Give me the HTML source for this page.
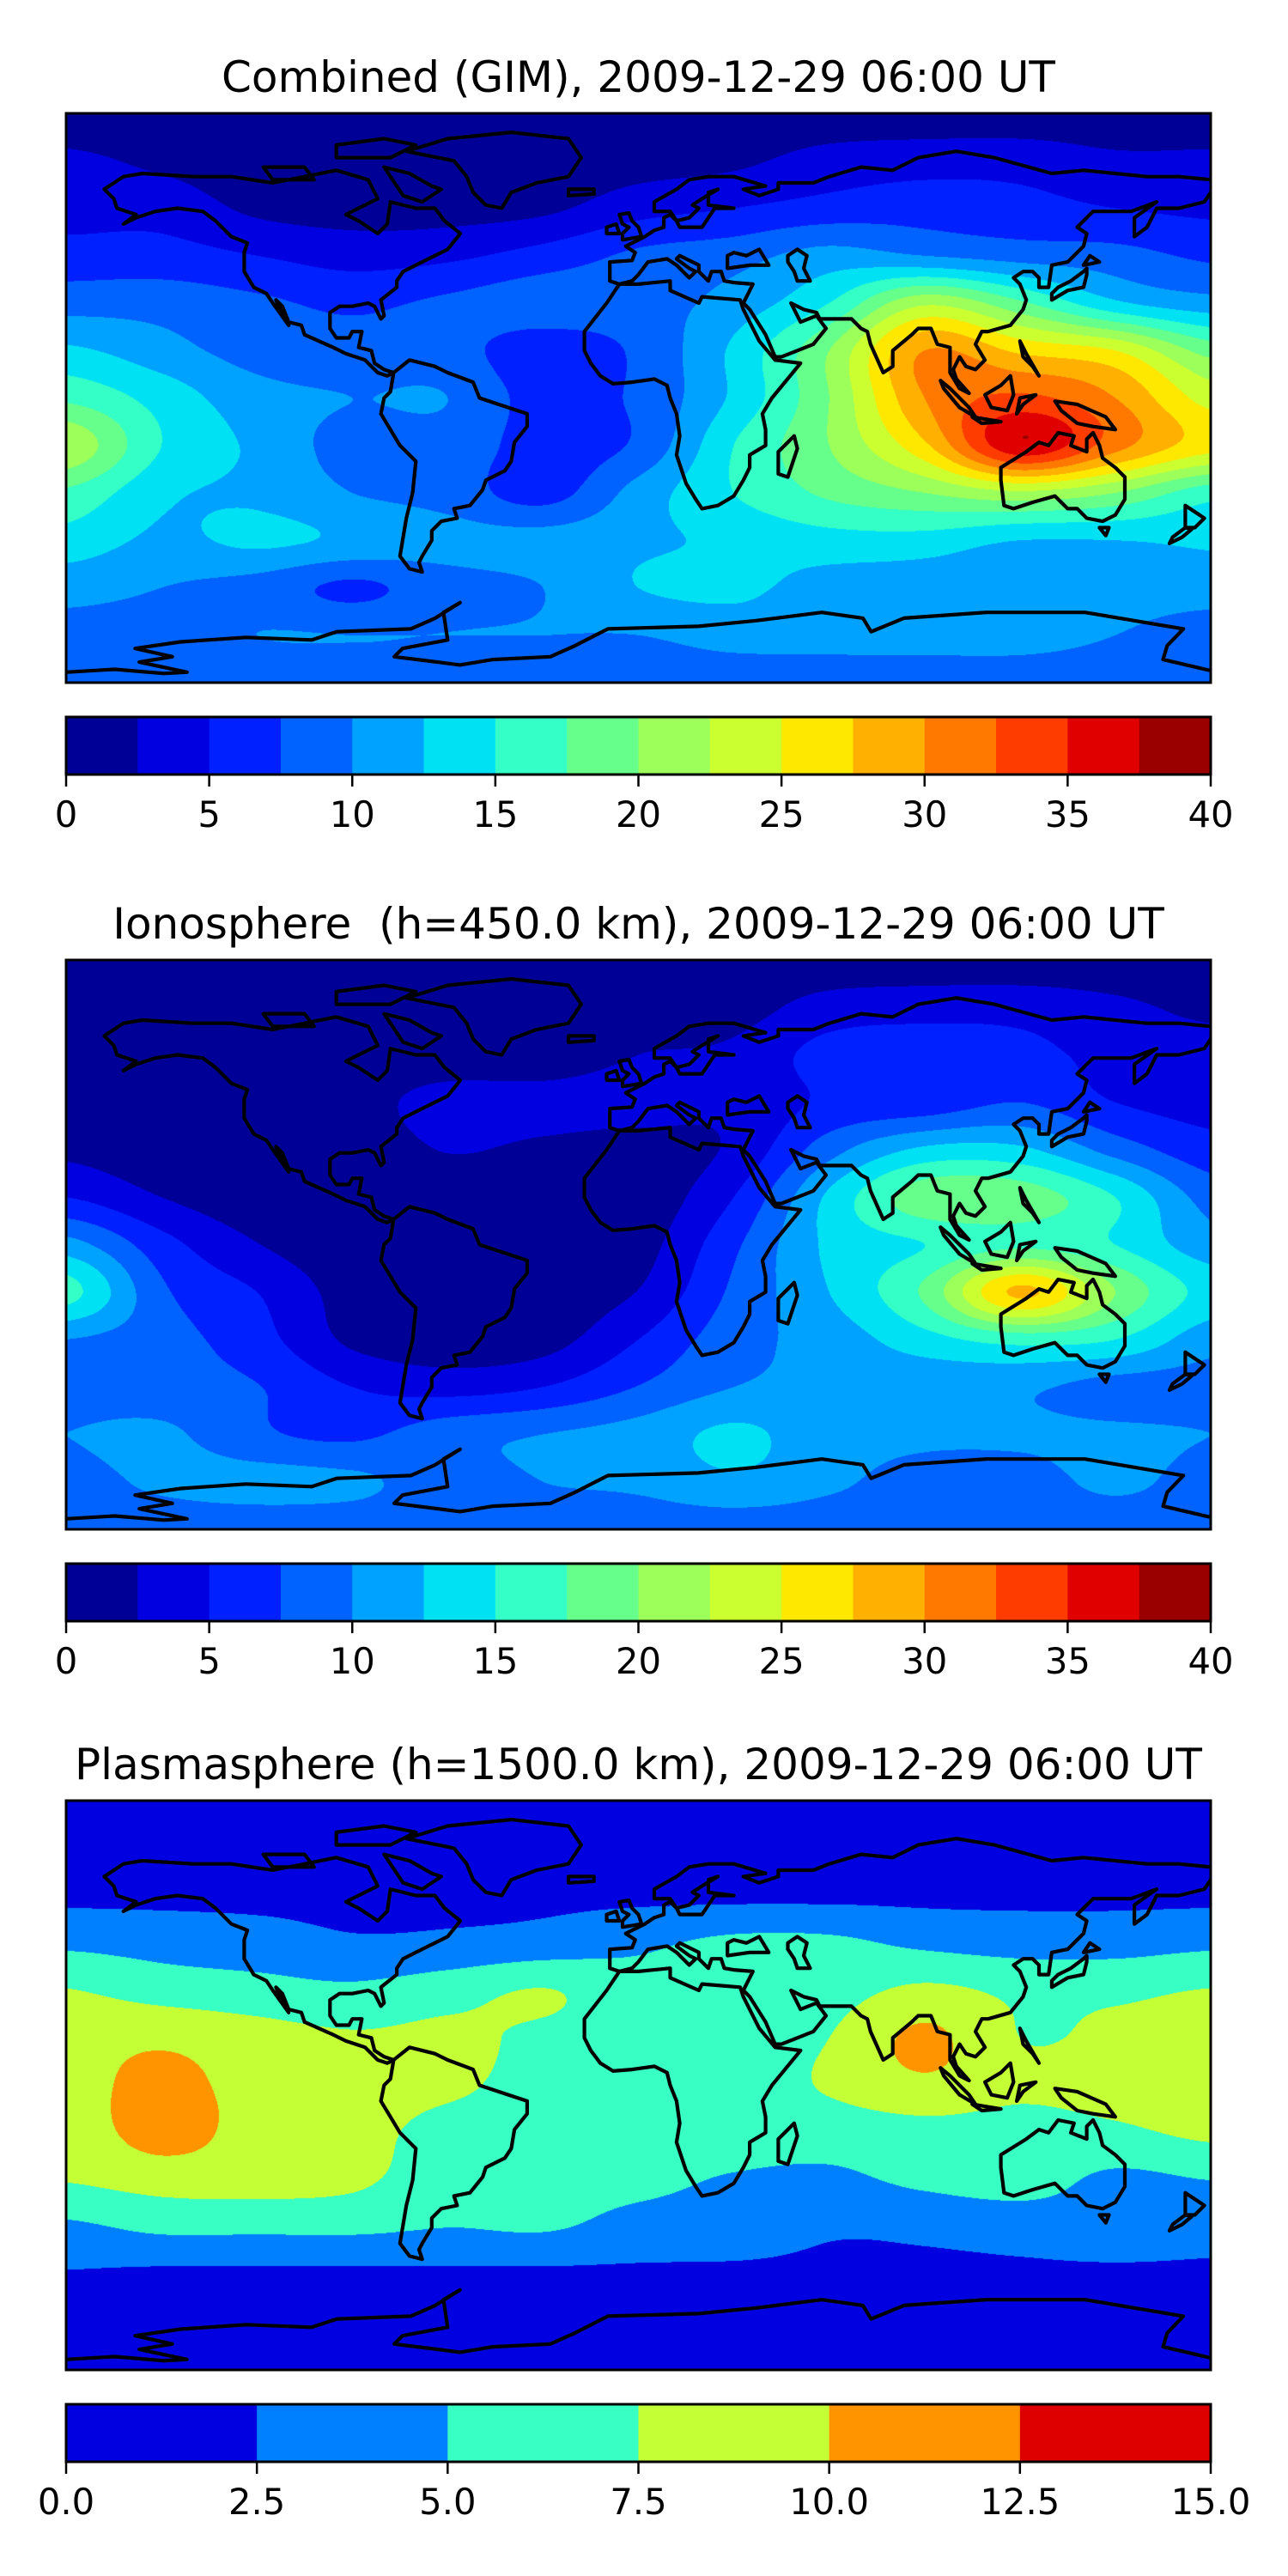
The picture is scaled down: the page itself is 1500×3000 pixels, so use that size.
<!DOCTYPE html>
<html><head><meta charset="utf-8">
<style>
html,body{margin:0;padding:0;background:#fff;}
#wrap{position:relative;width:1500px;height:3000px;overflow:hidden;}
canvas{position:absolute;}
svg{position:absolute;left:0;top:0;}
text{font-family:"DejaVu Sans","Liberation Sans",sans-serif;fill:#000;white-space:pre;}
</style></head>
<body>
<div id="wrap">
<canvas id="c0"></canvas>
<canvas id="c1"></canvas>
<canvas id="c2"></canvas>
<svg id="ov" width="1500" height="3000" viewBox="0 0 1500 3000"></svg>
</div>
<script>
// grid: rows lat 90..-90 step 15, cols lon -180..180 step 30
const gimGrid = [
[1,1,1,1,1,1,1,1,1,1,1,1,1],
[3,2,1,1,1,1,1.5,2,3.5,4,4,3,3],
[4,4,2,1.5,1.5,2,4,5,6,6.5,6,5,4.5],
[6,6,5,4,4.5,6,8,9,11,10,9,8.5,7],
[9,9,8,7,8,9,9,11,15,22,18,13,11],
[13,11,9,8.5,8.5,6,8,13,20,30,27,25,19],
[17,14,11,10,10,6.5,8,13,20,30,33,30,24],
[22,15,12,9,9,6.5,8,15,20,27,37,31,26],
[17,13,12,10,9,6.5,11,15,18,20,22,20,16],
[14,12,13,12,11,11,12,13,14,14,12.5,12.5,13],
[11,10,9,7,9,10,12.5,13,11.5,11,11,11,11],
[9,9,10,10,10,10,10,11,11,11,11,10,9],
[8.5,8.5,8.5,8.5,8.5,8.5,8.5,8.5,8.5,8.5,8.5,8.5,8.5]
];
const ionoGrid = [
[1,1,1,1,1,1,1,1,1,1,1,1,1],
[1,1,1,1,1,1,1,1.5,3.5,4,4,3,2],
[1,1,1,1,1,1,2.5,3,6,6.5,6,4,3.5],
[1.5,1,1,1.5,3.5,3.5,3.5,3,5.5,6,7.5,5,4],
[2,1,1,1,2.6,2,1.5,3,9,13,13,9,6],
[5,2.5,1,1,1,1,1,5,13,19,19,15,9],
[11,6,2.6,1,1,1,1.5,7,13,15,17,15,11],
[16,8,5,1.5,1,1,2.6,8,12.5,18,28,20,14],
[10,8.5,6,2,1,1.5,5,9,11,14,16,15,11],
[9,8.5,7.6,5,4,5,7.6,10,10.5,10.5,10.5,9,9],
[10,10.5,8,7,9,10,11,13,11,10.5,10.5,10.5,10],
[9,10.5,11,10.5,9,10,10.5,12,10.5,9,9,10.5,9],
[8.5,8.5,8.5,8.5,8.5,8.5,8.5,8.5,8.5,8.5,8.5,8.5,8.5]
];
const plasmaGrid = [
[1,1,1,1,1,1,1,1,1,1,1,1,1],
[1.5,1.5,1.5,1.5,1.5,1.5,1.5,1.5,1.5,1.5,1.5,1.5,1.5],
[2,2,2,2,2,2,2,2,2,2,2,2,2],
[4.5,4,3.5,2.8,3,3.5,4.5,5.5,5.5,4.5,4,4,4.5],
[7.6,6.5,6,5.5,6.5,7.6,6,6,6.5,8,7,7,7.6],
[9,9.5,8.5,7.8,8,7,6,6,7.5,10.5,7.5,8,8.5],
[9,10.8,9,8.5,8,6.5,6,6,7.8,9.5,8,8.5,9],
[8.5,11,9,8.5,6.5,6,6,6,6,6.5,6.5,7,8],
[7.6,8.5,8.5,8,6,5.5,5.5,4.8,4.5,5.5,6,4.5,5],
[4.5,5.5,5.5,5.5,5,5.2,4.2,3.8,2.8,3,3.5,4,3.5],
[2.3,2,2,2,2,2,2,2,2,2,2,2,2],
[1,1,1,1,1,1,1,1,1,1,1,1,1],
[1,1,1,1,1,1,1,1,1,1,1,1,1]
];
const jet16 = ["#000096","#0000e0","#0020ff","#0062ff","#00a2ff","#00e2f4","#33ffc6","#66ff8c","#9cff5a","#ccff30","#ffe800","#ffb000","#ff7800","#ff3c00","#e00000","#9a0000"];
const jet6 = ["#0000e0","#0080ff","#38ffc4","#c4ff36","#ff9400","#de0000"];
const ticks40 = ["0","5","10","15","20","25","30","35","40"];
const ticks15 = ["0.0","2.5","5.0","7.5","10.0","12.5","15.0"];
const titles = ["Combined (GIM), 2009-12-29 06:00 UT","Ionosphere  (h=450.0 km), 2009-12-29 06:00 UT","Plasmasphere (h=1500.0 km), 2009-12-29 06:00 UT"];

const X0=77, W=1333, H=663, CBH=67;
const panels=[
 {grid:gimGrid,vmax:40,colors:jet16,ticks:ticks40,y:132,cb:835,name:"combined"},
 {grid:ionoGrid,vmax:40,colors:jet16,ticks:ticks40,y:1118,cb:1821,name:"ionosphere"},
 {grid:plasmaGrid,vmax:15,colors:jet6,ticks:ticks15,y:2097,cb:2800,name:"plasmasphere"}
];

const coasts=[
[[-168,66],[-162,70],[-156,71],[-140,70],[-128,70],[-115,68],[-95,72],[-85,69],[-82,63],[-92,58],[-88,56],[-82,52],[-79,55],[-78,62],[-70,60],[-64,60],[-61,56],[-56,52],[-60,47],[-66,44],[-70,42],[-74,40],[-76,37],[-76,35],[-81,31],[-80,26],[-81,25],[-83,29],[-85,30],[-90,29],[-94,29],[-97,27],[-97,22],[-95,19],[-91,19],[-90,21],[-87,21],[-88,16],[-84,15],[-83,11],[-80,9],[-77,8],[-79,7],[-82,8],[-86,12],[-92,14],[-96,16],[-105,20],[-106,23],[-110,24],[-112,29],[-114,31],[-112,26],[-110,23],[-115,30],[-117,33],[-121,35],[-124,40],[-124,46],[-123,49],[-128,51],[-133,56],[-137,59],[-145,60],[-152,59],[-158,57],[-162,55],[-158,58],[-164,60],[-165,63],[-168,66]],
[[-77,8],[-72,12],[-64,10],[-60,8],[-52,5],[-50,0],[-44,-2],[-35,-5],[-35,-9],[-39,-14],[-40,-20],[-42,-23],[-48,-26],[-49,-29],[-53,-34],[-58,-35],[-57,-38],[-62,-39],[-65,-42],[-65,-45],[-68,-50],[-69,-52],[-68,-55],[-72,-54],[-75,-50],[-74,-44],[-73,-38],[-71,-30],[-70,-20],[-75,-15],[-78,-10],[-81,-5],[-80,0],[-78,2],[-77,8]],
[[-73,78],[-60,82],[-40,84],[-22,82],[-18,76],[-22,70],[-32,68],[-40,65],[-43,60],[-48,61],[-52,65],[-54,70],[-58,75],[-73,78]],
[[-80,73],[-72,71],[-65,67],[-62,66],[-68,62],[-74,64],[-78,70],[-80,73]],
[[-95,80],[-80,82],[-70,80],[-78,76],[-95,76],[-95,80]],
[[-118,73],[-105,73],[-102,69],[-115,69],[-118,73]],
[[33,30],[35,34],[36,36],[30,36.5],[27,37],[26,40],[23,40],[22,37],[19,40],[19,42],[13,45],[12,44],[16,41],[18,40],[16,38],[12,42],[9,44],[3,43],[0,39],[-2,37],[-6,36],[-9,37],[-9,43],[-2,43.5],[-1,46],[-4,48],[2,51],[5,53],[8,54],[8,57],[10,58],[12,56],[13,54],[20,54],[22,57],[24,60],[30,60],[22,61],[22,65],[25,66],[20,63],[17,61],[19,60],[16,57],[12,56],[10,59],[5,59],[5,62],[12,66],[16,69],[22,70],[30,70],[40,67],[33,66],[38,64],[44,66],[44,68],[55,68],[60,70],[70,73],[80,72],[88,76],[100,78],[112,76],[130,71],[140,72],[160,70],[170,70],[180,69]],
[[180,65],[178,62],[170,60],[163,60],[160,54],[156,51],[156,57],[163,62],[155,59],[143,59],[138,54],[141,52],[140,48],[135,43],[130,42],[129,35],[126,35],[126,38],[124,40],[121,40],[118,38],[120,36],[122,31],[121,28],[117,23],[110,21],[108,21],[106,17],[109,12],[106,9],[103,10],[101,13],[99,9],[100,6],[104,1.5],[101,3],[98,8],[98,16],[94,17],[92,22],[88,22],[86,20],[80,15],[80,10],[77,8],[73,17],[72,21],[70,22],[67,25],[62,25],[57,25],[56,27],[52,28],[48,30],[50,26],[51,24],[56,26],[59,22],[55,17],[50,15],[45,13],[43,13],[40,20],[35,28],[33,30]],
[[28,41],[28,45],[30,46],[34,45],[38,47],[41,42],[35,42],[28,41]],
[[47,45],[50,47],[53,45],[52,41],[54,37],[50,37],[49,40],[47,43],[47,45]],
[[-6,36],[-10,30],[-17,21],[-17,15],[-15,11],[-12,7],[-8,4.5],[-2,5],[5,6],[9,4],[10,0],[12,-5],[13,-12],[12,-18],[15,-27],[18,-32],[20,-35],[25,-34],[30,-31],[33,-26],[35,-22],[35,-18],[40,-15],[40,-10],[39,-5],[42,0],[51,11],[43,12],[38,18],[33,28],[32,31],[20,32],[19,30],[10,34],[10,37],[0,36],[-6,36]],
[[49,-12],[50,-16],[47,-25],[44,-24],[44,-17],[49,-12]],
[[-5,50],[1,51],[0,54],[-2,56],[-3,58.5],[-6,58],[-5,55],[-3,54],[-5,52],[-5,50]],
[[-6,52],[-10,52],[-10,54],[-7,55],[-6,52]],
[[-22,64],[-14,64.5],[-14,66],[-22,66],[-22,64]],
[[130,31],[135,34],[140,35],[141,39],[141,41],[140,40],[136,37],[132,35],[130,33],[130,31]],
[[140,42],[145,43],[142,45],[140,42]],
[[95,5.5],[98,3],[104,-3],[106,-6],[101,-3],[96,3],[95,5.5]],
[[105,-6],[114,-7.5],[108,-8],[105,-6]],
[[109,1],[111,-3],[116,-4],[118,1],[117,7],[114,4],[109,1]],
[[119,-5],[121,-2],[125,1],[120,0],[119,-5]],
[[131,-1],[138,-2],[147,-6],[150,-10],[143,-9],[138,-8],[133,-4],[131,-1]],
[[120,18],[122,14],[126,7],[124,10],[121,13],[120,18]],
[[114,-22],[114,-26],[115,-34],[118,-35],[124,-33],[131,-31],[135,-35],[138,-35],[141,-38],[146,-39],[150,-37],[153,-32],[153,-25],[150,-22],[146,-19],[145,-15],[143,-11],[141,-13],[141,-17],[136,-15],[137,-12],[132,-11],[129,-15],[126,-14],[122,-17],[114,-22]],
[[145,-41],[148,-41],[147,-43.5],[145,-41]],
[[172,-34],[178,-38],[175,-41],[172,-41],[172,-34]],
[[172,-41],[174,-41.5],[171,-44],[167,-46],[168,-44],[172,-41]],
[[-180,-86.7],[-164.7,-85.8],[-149.2,-87.1],[-142,-86.7],[-157,-83.5],[-146.6,-81.8],[-158.3,-79.2],[-144,-77.1],[-123.4,-75.7],[-102.7,-76.5],[-94.9,-73.9],[-71.6,-73],[-63.9,-69.6],[-56.1,-64.7],[-61.3,-67.8],[-60,-76.5],[-74.2,-79.2],[-76.8,-81.8],[-56.1,-84.4],[-45.8,-82.7],[-27.7,-81.8],[-19.9,-78.3],[-9.6,-73],[18.9,-72.2],[37,-70.4],[57.7,-67.8],[70.6,-69.6],[73.2,-73.9],[83.5,-69.6],[109.4,-67.8],[140.4,-67.8],[171.4,-73],[166.3,-78.3],[165,-82.7],[180,-86.2]]
];

function cr(p0,p1,p2,p3,t){return 0.5*(2*p1+(-p0+p2)*t+(2*p0-5*p1+4*p2-p3)*t*t+(-p0+3*p1-3*p2+p3)*t*t*t);}
function g(grid,r,c){r=Math.max(0,Math.min(12,r));c=Math.max(0,Math.min(12,c));return grid[r][c];}
function interp(grid,fx,fy){
  const c=Math.floor(fx), r=Math.floor(fy), tx=fx-c, ty=fy-r;
  const rows=[];
  for(let k=-1;k<=2;k++){rows.push(cr(g(grid,r+k,c-1),g(grid,r+k,c),g(grid,r+k,c+1),g(grid,r+k,c+2),tx));}
  return cr(rows[0],rows[1],rows[2],rows[3],ty);
}
function hex(h){return [parseInt(h.substr(1,2),16),parseInt(h.substr(3,2),16),parseInt(h.substr(5,2),16)];}

const NS="http://www.w3.org/2000/svg";
const ov=document.getElementById('ov');
function mk(tag,attrs,parent){const e=document.createElementNS(NS,tag);for(const k in attrs)e.setAttribute(k,attrs[k]);(parent||ov).appendChild(e);return e;}

panels.forEach((p,i)=>{
  const cv=document.getElementById('c'+i);
  cv.width=W;cv.height=H;cv.style.left=X0+'px';cv.style.top=p.y+'px';
  const ctx=cv.getContext('2d');const img=ctx.createImageData(W,H);
  const n=p.colors.length, step=p.vmax/n, rgb=p.colors.map(hex);
  for(let py=0;py<H;py++){
    const fy=((py+0.5)/H*180)/15;
    for(let px=0;px<W;px++){
      const fx=((px+0.5)/W*360)/30;
      const v=interp(p.grid,fx,fy);
      let k=Math.floor(v/step);k=Math.max(0,Math.min(n-1,k));
      const o=(py*W+px)*4,c=rgb[k];
      img.data[o]=c[0];img.data[o+1]=c[1];img.data[o+2]=c[2];img.data[o+3]=255;
    }
  }
  ctx.putImageData(img,0,0);

  const t=mk('text',{x:743.5,y:p.y-25,'text-anchor':'middle','font-size':'50','xml:space':'preserve'});
  t.textContent=titles[i];
  
  

  const cid='clip'+i;
  const cp=mk('clipPath',{id:cid});mk('rect',{x:X0,y:p.y,width:W,height:H},cp);
  const gg=mk('g',{'clip-path':'url(#'+cid+')'});
  
  
  coasts.forEach(line=>{
    const pts=line.map(q=>(X0+(q[0]+180)/360*W).toFixed(1)+','+(p.y+(90-q[1])/180*H).toFixed(1)).join(' ');
    const pl=mk('polyline',{points:pts,fill:'none',stroke:'#000','stroke-width':'4.2','stroke-linejoin':'round','stroke-linecap':'round'},gg);
    
    
  });
  const fr=mk('rect',{x:X0,y:p.y,width:W,height:H,fill:'none',stroke:'#000','stroke-width':'3'});
  
  

  const cb=mk('g',{});
  
  
  const bw=W/n;
  p.colors.forEach((c,k)=>{
    const r=mk('rect',{x:(X0+k*bw).toFixed(2),y:p.cb,width:(bw+0.6).toFixed(2),height:CBH,fill:c},cb);
    
    
  });
  mk('rect',{x:X0,y:p.cb,width:W,height:CBH,fill:'none',stroke:'#000','stroke-width':'3'},cb);
  const nt=p.ticks.length;
  p.ticks.forEach((lab,k)=>{
    const x=X0+k*W/(nt-1);
    mk('line',{x1:x,x2:x,y1:p.cb+CBH,y2:p.cb+CBH+14,stroke:'#000','stroke-width':'2.5'},cb);
    const tt=mk('text',{x:x,y:p.cb+CBH+61,'text-anchor':'middle','font-size':'41.7'},cb);
    tt.textContent=lab;
    
    
  });
});
</script>
</body></html>
